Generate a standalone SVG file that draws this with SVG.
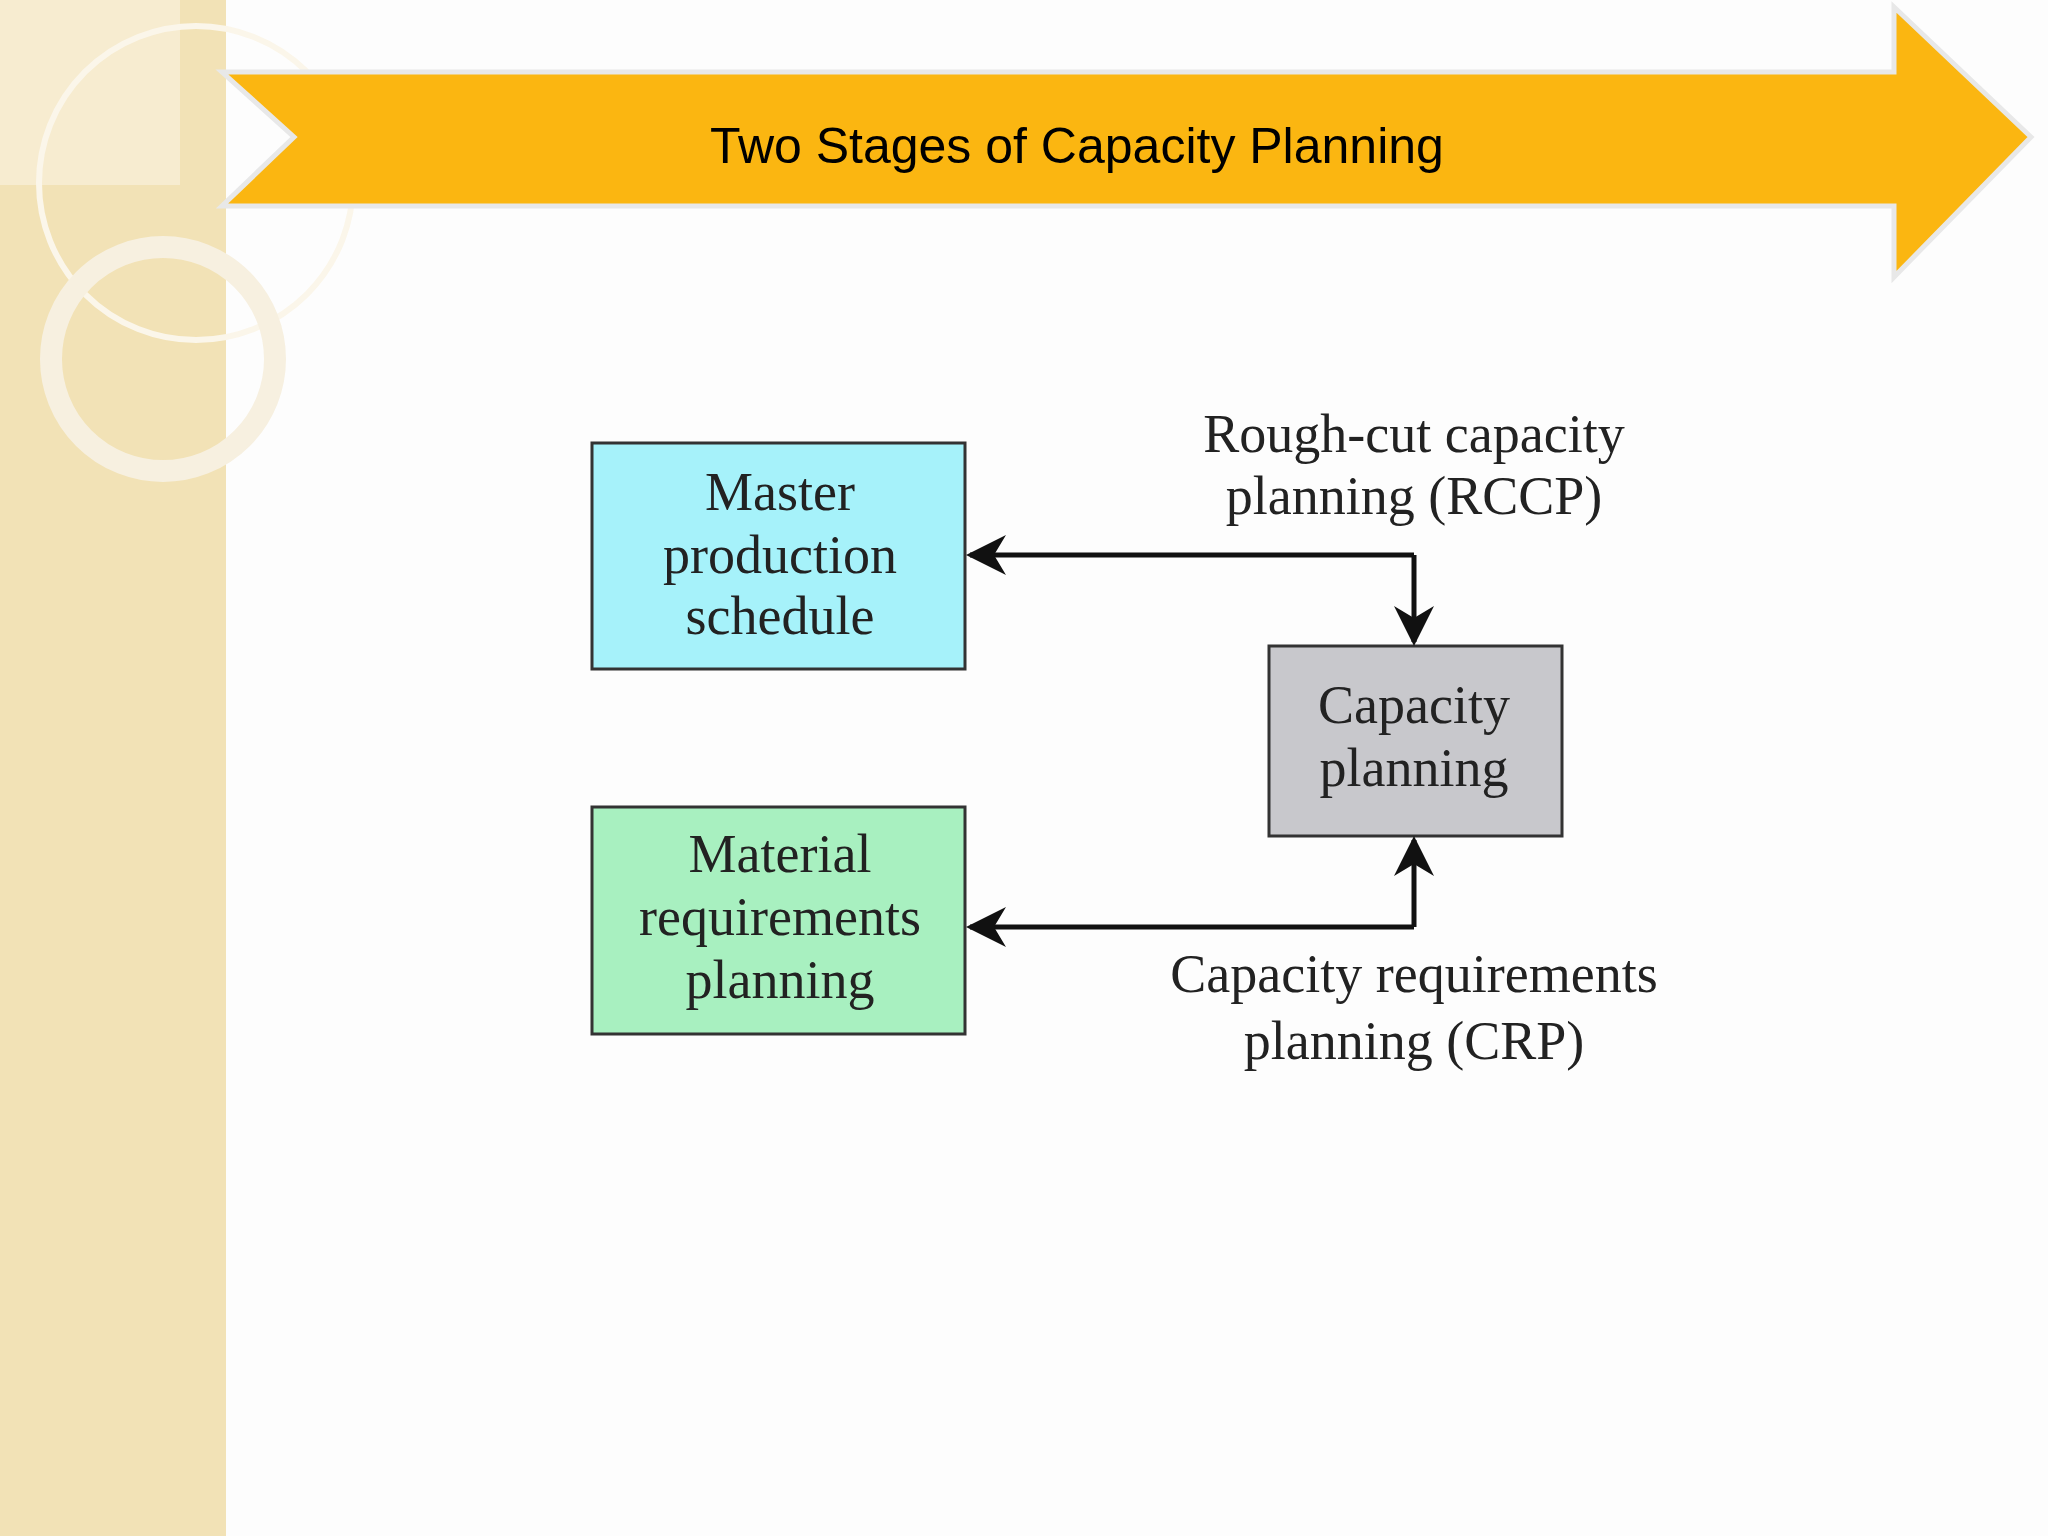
<svg xmlns="http://www.w3.org/2000/svg" width="2048" height="1536" viewBox="0 0 2048 1536">
<style>
.t{font-family:"Liberation Serif",serif;font-size:54px;fill:#222;text-anchor:middle;dominant-baseline:central}
.box{stroke:#333;stroke-width:3}
.c{fill:none;stroke:#111;stroke-width:5}
</style>
<defs>
<marker id="ah" viewBox="0 0 10 10" refX="9" refY="5" markerWidth="7" markerHeight="7" orient="auto" markerUnits="userSpaceOnUse">
<path d="M0,0 L10,5 L0,10 L3,5 z" fill="#111"/>
</marker>
<marker id="a2" viewBox="0 0 10 10" refX="9" refY="5" markerWidth="8" markerHeight="8" orient="auto"><path d="M0,0 L10,5 L0,10 L3,5 z" fill="#111"/></marker>
</defs>
<rect width="2048" height="1536" fill="#fdfdfd"/>
<rect x="0" y="0" width="226" height="1536" fill="#f2e2b6"/>
<rect x="0" y="0" width="180" height="185" fill="#f7ecd0"/>
<circle cx="196" cy="183" r="157" fill="none" stroke="#fbf6ea" stroke-width="6"/>
<circle cx="163" cy="359" r="112" fill="none" stroke="#f7f0e0" stroke-width="22"/>
<g id="banner">
<path d="M222,72 L1894,72 L1894,7 L2031,137 L1894,277 L1894,206 L222,206 L294,137 Z" fill="#fbb611" stroke="#e8e8e8" stroke-width="5"/>
<text x="1077" y="146" style="font-family:'Liberation Sans',Arial,sans-serif;font-size:50px;fill:#000;text-anchor:middle;dominant-baseline:central">Two Stages of Capacity Planning</text>
</g>
<g id="mps"><rect class="box" x="592" y="443" width="373" height="226" fill="#a6f2fa"/>
<text class="t" x="780" y="492">Master</text><text class="t" x="780" y="555">production</text><text class="t" x="780" y="616">schedule</text></g>
<g id="mrp"><rect class="box" x="592" y="807" width="373" height="227" fill="#a8f0c0"/>
<text class="t" x="780" y="854">Material</text><text class="t" x="780" y="917">requirements</text><text class="t" x="780" y="980">planning</text></g>
<g id="cap"><rect class="box" x="1269" y="646" width="293" height="190" fill="#c8c8cc"/>
<text class="t" x="1414" y="705">Capacity</text><text class="t" x="1414" y="768">planning</text></g>
<g id="connectors">
<path class="c" d="M1414,555 L1414,642" marker-end="url(#a2)"/>
<path class="c" d="M1414,555 L970,555" marker-end="url(#a2)"/>
<path class="c" d="M1414,927 L1414,840" marker-end="url(#a2)"/>
<path class="c" d="M1414,927 L970,927" marker-end="url(#a2)"/>
<text class="t" x="1414" y="434">Rough-cut capacity</text>
<text class="t" x="1414" y="496">planning (RCCP)</text>
<text class="t" x="1414" y="974">Capacity requirements</text>
<text class="t" x="1414" y="1041">planning (CRP)</text>
</g>
</svg>
